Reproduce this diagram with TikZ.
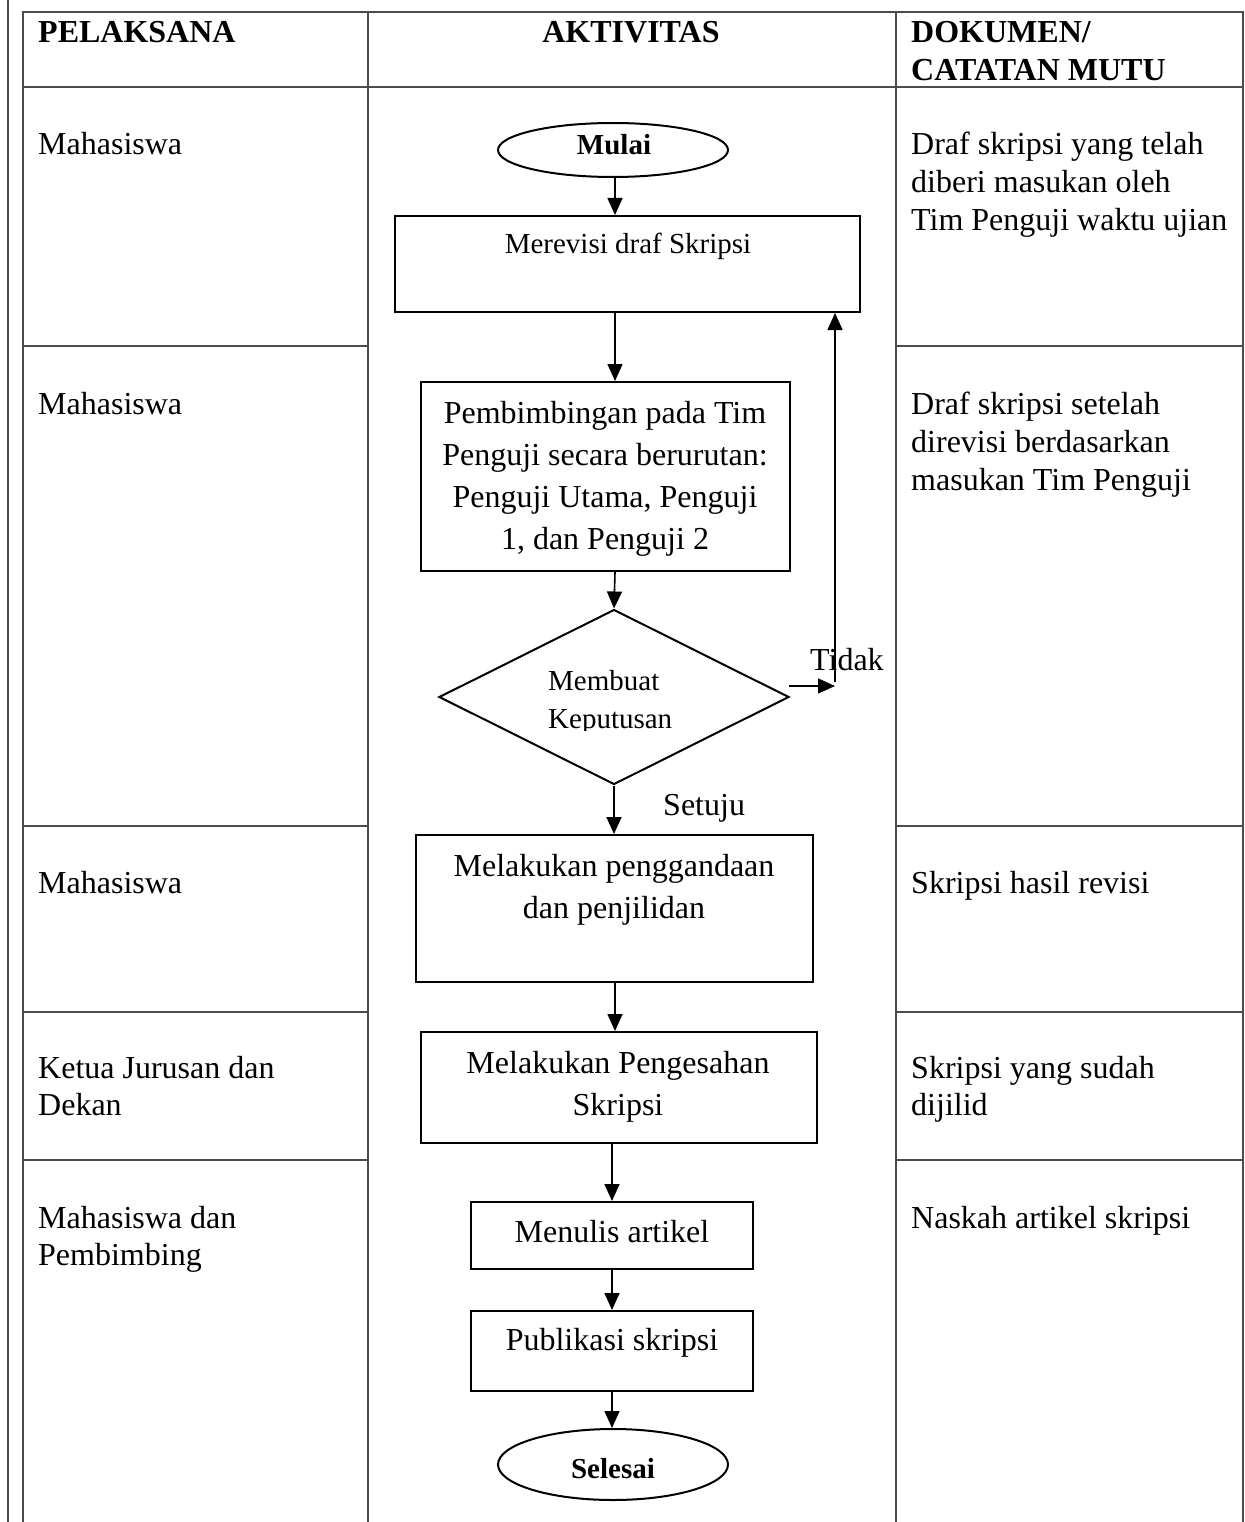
\documentclass[tikz,border=0pt]{standalone}
\usepackage{fontspec}
\setmainfont{Liberation Serif}
\usetikzlibrary{shapes.geometric,arrows.meta,calc}
\tikzset{
  tbl/.style={line width=2pt, draw=black!70},
  box/.style={draw, line width=2pt, rectangle, inner sep=0pt},
  oval/.style={draw, line width=2pt, ellipse, inner sep=0pt},
  arr/.style={line width=1.6pt, -{Triangle[length=17pt,width=15pt]}},
  txt/.style={inner sep=0pt, font=\fontsize{32}{38}\selectfont},
  btxt/.style={inner sep=0pt, font=\fontsize{32}{38}\selectfont\bfseries},
}
\begin{document}
\begin{tikzpicture}[x=1pt,y=-1pt]
\useasboundingbox (0,0) rectangle (1244,1522);
% table
\draw[tbl] (8,0) -- (8,1522);
\draw[tbl] (23,1522) -- (23,12) -- (1243,12) -- (1243,1522);
\draw[tbl] (23,87) -- (1243,87);
\draw[tbl] (368,12) -- (368,1522);
\draw[tbl] (896,12) -- (896,1522);
\foreach \yy in {346,826,1012,1160}{
  \draw[tbl] (23,\yy) -- (368,\yy);
  \draw[tbl] (896,\yy) -- (1243,\yy);
}
% header
\node[btxt, anchor=base west] (h1) at (38,43) {PELAKSANA};
\node[btxt, anchor=base] (h2) at (631,43) {AKTIVITAS};
\node[btxt, anchor=base west] (h3a) at (911,43) {DOKUMEN/};
\node[btxt, anchor=base west] (h3b) at (911,81) {CATATAN MUTU};
% left column
\node[txt, anchor=base west] (p1) at (38,155) {Mahasiswa};
\node[txt, anchor=base west] (p2) at (38,414) {Mahasiswa};
\node[txt, anchor=base west] (p3) at (38,893) {Mahasiswa};
\node[txt, anchor=base west] (p4a) at (38,1078) {Ketua Jurusan dan};
\node[txt, anchor=base west] (p4b) at (38,1115) {Dekan};
\node[txt, anchor=base west] (p5a) at (38,1228) {Mahasiswa dan};
\node[txt, anchor=base west] (p5b) at (38,1265) {Pembimbing};
% right column
\node[txt, anchor=base west] (d1a) at (911,155) {Draf skripsi yang telah};
\node[txt, anchor=base west] (d1b) at (911,193) {diberi masukan oleh};
\node[txt, anchor=base west] (d1c) at (911,231) {Tim Penguji waktu ujian};
\node[txt, anchor=base west] (d2a) at (911,414) {Draf skripsi setelah};
\node[txt, anchor=base west] (d2b) at (911,452) {direvisi berdasarkan};
\node[txt, anchor=base west] (d2c) at (911,490) {masukan Tim Penguji};
\node[txt, anchor=base west] (d3) at (911,893) {Skripsi hasil revisi};
\node[txt, anchor=base west] (d4a) at (911,1078) {Skripsi yang sudah};
\node[txt, anchor=base west] (d4b) at (911,1115) {dijilid};
\node[txt, anchor=base west] (d5) at (911,1228) {Naskah artikel skripsi};
% flow shapes
\node[oval, minimum width=230pt, minimum height=54pt] (start) at (613,150) {};
\node[btxt, font=\fontsize{29}{34}\selectfont\bfseries, anchor=base] (starttx) at (614,155) {Mulai};
\node[box, minimum width=465pt, minimum height=96pt] (r1) at (627.5,264) {};
\node[txt, font=\fontsize{29}{34}\selectfont, anchor=base] (r1tx) at (628,254) {Merevisi draf Skripsi};
\node[box, minimum width=369pt, minimum height=189pt] (r2) at (605.5,476.5) {};
\node[txt, anchor=base] (r2a) at (605,423) {Pembimbingan pada Tim};
\node[txt, anchor=base] (r2b) at (605,465) {Penguji secara berurutan:};
\node[txt, anchor=base] (r2c) at (605,507) {Penguji Utama, Penguji};
\node[txt, anchor=base] (r2d) at (605,549) {1, dan Penguji 2};
\node[draw, line width=2pt, diamond, inner sep=0pt, minimum width=350pt, minimum height=175pt] (dec) at (614,697) {};
\node[txt, font=\fontsize{29}{34}\selectfont, anchor=base west] (deca) at (548,690) {Membuat};
\begin{scope}
  \clip (500,700) rectangle (800,730);
  \node[txt, font=\fontsize{29}{34}\selectfont, anchor=base west] (decb) at (548,728) {Keputusan};
\end{scope}
\node[box, minimum width=397pt, minimum height=147pt] (r3) at (614.5,908.5) {};
\node[txt, anchor=base] (r3a) at (614,876) {Melakukan penggandaan};
\node[txt, anchor=base] (r3b) at (614,918) {dan penjilidan};
\node[box, minimum width=396pt, minimum height=111pt] (r4) at (619,1087.5) {};
\node[txt, anchor=base] (r4a) at (618,1073) {Melakukan Pengesahan};
\node[txt, anchor=base] (r4b) at (618,1115) {Skripsi};
\node[box, minimum width=282pt, minimum height=67pt] (r5) at (612,1235.5) {};
\node[txt, anchor=base] (r5tx) at (612,1242) {Menulis artikel};
\node[box, minimum width=282pt, minimum height=80pt] (r6) at (612,1351) {};
\node[txt, anchor=base] (r6tx) at (612,1350) {Publikasi skripsi};
\node[oval, minimum width=230pt, minimum height=71pt] (end) at (613,1464.5) {};
\node[btxt, font=\fontsize{29}{34}\selectfont\bfseries, anchor=base] (endtx) at (613,1478) {Selesai};
% labels
\node[txt, anchor=base west] (tidak) at (810,670) {Tidak};
\node[txt, anchor=base west] (setuju) at (663,815) {Setuju};
% connectors
\coordinate (axis) at (615,0);
\coordinate (tk) at (835,686);
\coordinate (tv) at (835,682);
\coordinate (ts) at ($(dec.east)+(-1,-11)$);
\draw[arr] (start.south -| axis) -- (r1.north -| axis);
\draw[arr] (r1.south -| axis) -- (r2.north -| axis);
\draw[arr] (r2.south -| axis) -- (dec.north);
\draw[arr] (ts) -- (tk);
\draw[arr] (tv) -- (tv |- r1.south);
\draw[arr] (dec.south) -- (r3.north -| dec.south);
\draw[arr] (r3.south -| axis) -- (r4.north -| axis);
\draw[arr] (r4.south -| r5.north) -- (r5.north);
\draw[arr] (r5.south) -- (r6.north);
\draw[arr] (r6.south) -- (end.north -| r6.south);
\end{tikzpicture}
\end{document}
